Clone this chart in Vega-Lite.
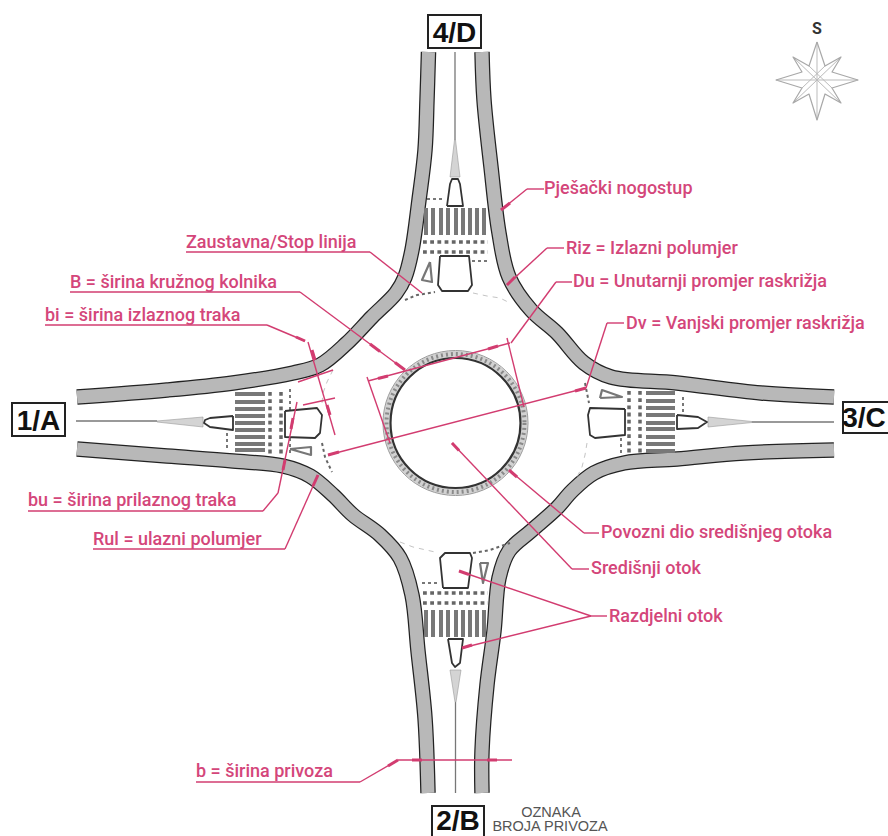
{"$schema":"https://vega.github.io/schema/vega-lite/v6.json","width":888,"height":836,"padding":0,"autosize":{"type":"none"},"background":"white","config":{"view":{"stroke":null}},
"datasets":{
"walk":[
{"s":"NW","i":0,"x":428.5,"y":52},{"s":"NW","i":1,"x":427,"y":100},{"s":"NW","i":2,"x":425,"y":150},{"s":"NW","i":3,"x":419,"y":200},{"s":"NW","i":4,"x":412,"y":250},{"s":"NW","i":5,"x":405,"y":277},{"s":"NW","i":6,"x":396,"y":293},{"s":"NW","i":7,"x":372,"y":317},{"s":"NW","i":8,"x":347,"y":343},{"s":"NW","i":9,"x":320,"y":365},{"s":"NW","i":10,"x":293,"y":373},{"s":"NW","i":11,"x":233,"y":383},{"s":"NW","i":12,"x":167,"y":390},{"s":"NW","i":13,"x":77,"y":397},
{"s":"SW","i":0,"x":77,"y":449},{"s":"SW","i":1,"x":167,"y":456},{"s":"SW","i":2,"x":233,"y":461},{"s":"SW","i":3,"x":283,"y":466},{"s":"SW","i":4,"x":310,"y":476},{"s":"SW","i":5,"x":333,"y":495},{"s":"SW","i":6,"x":353,"y":515},{"s":"SW","i":7,"x":380,"y":535},{"s":"SW","i":8,"x":400,"y":558},{"s":"SW","i":9,"x":412,"y":595},{"s":"SW","i":10,"x":418,"y":651},{"s":"SW","i":11,"x":425,"y":718},{"s":"SW","i":12,"x":428,"y":793},
{"s":"SE","i":0,"x":834,"y":450},{"s":"SE","i":1,"x":744,"y":453},{"s":"SE","i":2,"x":677,"y":459},{"s":"SE","i":3,"x":624,"y":463},{"s":"SE","i":4,"x":594,"y":473},{"s":"SE","i":5,"x":572,"y":491},{"s":"SE","i":6,"x":557,"y":508},{"s":"SE","i":7,"x":531,"y":531},{"s":"SE","i":8,"x":509,"y":551},{"s":"SE","i":9,"x":499,"y":578},{"s":"SE","i":10,"x":494,"y":631},{"s":"SE","i":11,"x":487,"y":685},{"s":"SE","i":12,"x":482,"y":751},{"s":"SE","i":13,"x":482,"y":793},
{"s":"NE","i":0,"x":482,"y":52},{"s":"NE","i":1,"x":484,"y":100},{"s":"NE","i":2,"x":491,"y":167},{"s":"NE","i":3,"x":499,"y":233},{"s":"NE","i":4,"x":509,"y":277},{"s":"NE","i":5,"x":531,"y":310},{"s":"NE","i":6,"x":557,"y":333},{"s":"NE","i":7,"x":584,"y":363},{"s":"NE","i":8,"x":611,"y":377},{"s":"NE","i":9,"x":677,"y":383},{"s":"NE","i":10,"x":761,"y":393},{"s":"NE","i":11,"x":834,"y":397}],
"axis":[{"x":76,"y":421,"x2":157,"y2":421},{"x":752,"y":422,"x2":834,"y2":422},{"x":455,"y":52,"x2":455,"y2":140},{"x":455.5,"y":702,"x2":455.5,"y2":793}],
"wedgeH":[{"w":"W","x":157,"y":421,"y2":422},{"w":"W","x":203,"y":417,"y2":427},{"w":"E","x":708,"y":417,"y2":427},{"w":"E","x":752,"y":421.5,"y2":422.5}],
"wedgeV":[{"w":"N","y":140,"x":454.5,"x2":455.5},{"w":"N","y":177,"x":450,"x2":460},{"w":"S","y":670,"x":450,"x2":461},{"w":"S","y":702,"x":455,"x2":456}],
"stripes":[
{"x":235,"y":394,"x2":265,"y2":394},{"x":235,"y":402,"x2":265,"y2":402},{"x":235,"y":409,"x2":265,"y2":409},{"x":235,"y":416,"x2":265,"y2":416},{"x":235,"y":423,"x2":265,"y2":423},{"x":235,"y":430,"x2":265,"y2":430},{"x":235,"y":437,"x2":265,"y2":437},{"x":235,"y":444,"x2":265,"y2":444},{"x":235,"y":450,"x2":265,"y2":450},
{"x":646,"y":393,"x2":675,"y2":393},{"x":646,"y":401,"x2":675,"y2":401},{"x":646,"y":408,"x2":675,"y2":408},{"x":646,"y":415,"x2":675,"y2":415},{"x":646,"y":423,"x2":675,"y2":423},{"x":646,"y":429,"x2":675,"y2":429},{"x":646,"y":437,"x2":675,"y2":437},{"x":646,"y":444,"x2":675,"y2":444},{"x":646,"y":451,"x2":675,"y2":451},
{"x":426,"y":208,"x2":426,"y2":235},{"x":433,"y":208,"x2":433,"y2":235},{"x":441,"y":208,"x2":441,"y2":235},{"x":448,"y":208,"x2":448,"y2":235},{"x":456,"y":208,"x2":456,"y2":235},{"x":463,"y":208,"x2":463,"y2":235},{"x":470,"y":208,"x2":470,"y2":235},{"x":477,"y":208,"x2":477,"y2":235},{"x":484,"y":208,"x2":484,"y2":235},
{"x":426,"y":610,"x2":426,"y2":637},{"x":433,"y":610,"x2":433,"y2":637},{"x":441,"y":610,"x2":441,"y2":637},{"x":448,"y":610,"x2":448,"y2":637},{"x":456,"y":610,"x2":456,"y2":637},{"x":463,"y":610,"x2":463,"y2":637},{"x":470,"y":610,"x2":470,"y2":637},{"x":477,"y":610,"x2":477,"y2":637},{"x":484,"y":610,"x2":484,"y2":637}],
"dots":[{"x":270,"y":392,"x2":270,"y2":454},{"x":281,"y":392,"x2":281,"y2":454},{"x":629,"y":391,"x2":629,"y2":454},{"x":640,"y":391,"x2":640,"y2":454},{"x":423,"y":242,"x2":488,"y2":242},{"x":423,"y":252,"x2":488,"y2":252},{"x":423,"y":593,"x2":488,"y2":593},{"x":423,"y":603,"x2":488,"y2":603}],
"fine":[{"x":227,"y":433,"x2":227,"y2":448},{"x":290,"y":389,"x2":290,"y2":411},{"x":290,"y":438,"x2":290,"y2":454},{"x":683,"y":397,"x2":683,"y2":412},{"x":621,"y":438,"x2":621,"y2":455},{"x":427,"y":199,"x2":445,"y2":199},{"x":472,"y":261,"x2":488,"y2":261},{"x":422,"y":583,"x2":438,"y2":583}],
"apronDark":[
{"a":"a","i":0,"x":405,"y":300},{"a":"a","i":1,"x":417,"y":295},{"a":"a","i":2,"x":435,"y":292},
{"a":"b","i":0,"x":585,"y":383},{"a":"b","i":1,"x":587,"y":393},{"a":"b","i":2,"x":589,"y":403},
{"a":"c","i":0,"x":473,"y":553},{"a":"c","i":1,"x":490,"y":550},{"a":"c","i":2,"x":510,"y":543},
{"a":"d","i":0,"x":322,"y":443},{"a":"d","i":1,"x":325,"y":457},{"a":"d","i":2,"x":332,"y":472}],
"apronLight":[
{"a":"a","i":0,"x":473,"y":293},{"a":"a","i":1,"x":487,"y":296},{"a":"a","i":2,"x":500,"y":298},{"a":"a","i":3,"x":510,"y":303},
{"a":"b","i":0,"x":587,"y":443},{"a":"b","i":1,"x":585,"y":455},{"a":"b","i":2,"x":582,"y":467},{"a":"b","i":3,"x":577,"y":477},
{"a":"c","i":0,"x":400,"y":542},{"a":"c","i":1,"x":413,"y":547},{"a":"c","i":2,"x":435,"y":552},
{"a":"d","i":0,"x":333,"y":370},{"a":"d","i":1,"x":327,"y":382},{"a":"d","i":2,"x":323,"y":393},{"a":"d","i":3,"x":322,"y":403}],
"islands":[
{"k":"N1","i":0,"x":447,"y":206},{"k":"N1","i":1,"x":463,"y":206},{"k":"N1","i":2,"x":460,"y":184},{"k":"N1","i":3,"x":458,"y":179},{"k":"N1","i":4,"x":452,"y":179},{"k":"N1","i":5,"x":450,"y":184},{"k":"N1","i":6,"x":447,"y":206},
{"k":"N2","i":0,"x":440,"y":256},{"k":"N2","i":1,"x":469,"y":256},{"k":"N2","i":2,"x":472,"y":285},{"k":"N2","i":3,"x":468,"y":291},{"k":"N2","i":4,"x":442,"y":291},{"k":"N2","i":5,"x":438,"y":285},{"k":"N2","i":6,"x":440,"y":256},
{"k":"W1","i":0,"x":233,"y":416},{"k":"W1","i":1,"x":233,"y":430},{"k":"W1","i":2,"x":210,"y":427},{"k":"W1","i":3,"x":204,"y":423},{"k":"W1","i":4,"x":205,"y":420},{"k":"W1","i":5,"x":210,"y":418},{"k":"W1","i":6,"x":233,"y":416},
{"k":"W2","i":0,"x":285,"y":411},{"k":"W2","i":1,"x":317,"y":408},{"k":"W2","i":2,"x":322,"y":415},{"k":"W2","i":3,"x":320,"y":433},{"k":"W2","i":4,"x":315,"y":438},{"k":"W2","i":5,"x":285,"y":437},{"k":"W2","i":6,"x":285,"y":411},
{"k":"E1","i":0,"x":677,"y":415},{"k":"E1","i":1,"x":698,"y":417},{"k":"E1","i":2,"x":707,"y":422},{"k":"E1","i":3,"x":698,"y":428},{"k":"E1","i":4,"x":677,"y":429},{"k":"E1","i":5,"x":677,"y":415},
{"k":"E2","i":0,"x":625,"y":409},{"k":"E2","i":1,"x":590,"y":408},{"k":"E2","i":2,"x":588,"y":415},{"k":"E2","i":3,"x":590,"y":435},{"k":"E2","i":4,"x":595,"y":438},{"k":"E2","i":5,"x":625,"y":435},{"k":"E2","i":6,"x":625,"y":409},
{"k":"S1","i":0,"x":448,"y":639},{"k":"S1","i":1,"x":463,"y":639},{"k":"S1","i":2,"x":460,"y":663},{"k":"S1","i":3,"x":455,"y":667},{"k":"S1","i":4,"x":452,"y":663},{"k":"S1","i":5,"x":448,"y":639},
{"k":"S2","i":0,"x":443,"y":588},{"k":"S2","i":1,"x":440,"y":558},{"k":"S2","i":2,"x":445,"y":553},{"k":"S2","i":3,"x":470,"y":553},{"k":"S2","i":4,"x":472,"y":558},{"k":"S2","i":5,"x":468,"y":588},{"k":"S2","i":6,"x":443,"y":588}],
"yield":[
{"k":"N","i":0,"x":430,"y":262},{"k":"N","i":1,"x":422,"y":280},{"k":"N","i":2,"x":432,"y":282},{"k":"N","i":3,"x":430,"y":262},
{"k":"W","i":0,"x":290,"y":449},{"k":"W","i":1,"x":311,"y":447},{"k":"W","i":2,"x":311,"y":455},{"k":"W","i":3,"x":290,"y":449},
{"k":"E","i":0,"x":600,"y":398},{"k":"E","i":1,"x":602,"y":390},{"k":"E","i":2,"x":622,"y":397},{"k":"E","i":3,"x":600,"y":398},
{"k":"S","i":0,"x":480,"y":563},{"k":"S","i":1,"x":488,"y":563},{"k":"S","i":2,"x":483,"y":583},{"k":"S","i":3,"x":480,"y":563}],
"star":[
{"i":0,"x":817,"y":42},{"i":1,"x":825,"y":66},{"i":2,"x":841,"y":57},{"i":3,"x":832,"y":72},{"i":4,"x":858,"y":80},{"i":5,"x":832,"y":88},{"i":6,"x":841,"y":103},{"i":7,"x":825,"y":94},{"i":8,"x":817,"y":120},{"i":9,"x":809,"y":94},{"i":10,"x":793,"y":103},{"i":11,"x":802,"y":88},{"i":12,"x":776,"y":80},{"i":13,"x":802,"y":72},{"i":14,"x":793,"y":57},{"i":15,"x":809,"y":66},{"i":16,"x":817,"y":42}],
"starIn":[{"x":817,"y":42,"x2":817,"y2":120},{"x":776,"y":80,"x2":858,"y2":80},{"x":793,"y":57,"x2":841,"y2":103},{"x":841,"y":57,"x2":793,"y2":103},{"x":809,"y":66,"x2":832,"y2":88},{"x":825,"y":66,"x2":802,"y2":88}],
"ctr":[{"x":455.5,"y":423}],
"lead":[
{"x":186,"y":252,"x2":370,"y2":252},{"x":370,"y":252,"x2":422,"y2":293},
{"x":70,"y":292,"x2":300,"y2":292},{"x":300,"y":292,"x2":405,"y2":370},
{"x":45,"y":325,"x2":267,"y2":325},{"x":267,"y":325,"x2":305,"y2":341},{"x":308,"y":342,"x2":335,"y2":435},{"x":298,"y":382,"x2":333,"y2":370},{"x":303,"y":405,"x2":335,"y2":398},
{"x":28,"y":511,"x2":263,"y2":511},{"x":263,"y":511,"x2":278,"y2":493},{"x":278,"y":493,"x2":297,"y2":402},
{"x":93,"y":549,"x2":285,"y2":549},{"x":285,"y":549,"x2":318,"y2":475},
{"x":544,"y":189,"x2":527,"y2":189},{"x":527,"y":189,"x2":501,"y2":210},
{"x":564,"y":248,"x2":547,"y2":248},{"x":547,"y":248,"x2":507,"y2":285},
{"x":572,"y":282,"x2":556,"y2":282},{"x":556,"y":282,"x2":511,"y2":343},
{"x":624,"y":323,"x2":607,"y2":323},{"x":607,"y":323,"x2":586,"y2":388},
{"x":599,"y":533,"x2":584,"y2":533},{"x":584,"y":533,"x2":509,"y2":470},
{"x":589,"y":569,"x2":572,"y2":569},{"x":572,"y":569,"x2":452,"y2":443},
{"x":607,"y":616,"x2":591,"y2":616},{"x":591,"y":616,"x2":459,"y2":571},{"x":591,"y":616,"x2":462,"y2":648},
{"x":196,"y":782,"x2":360,"y2":782},{"x":360,"y":782,"x2":398,"y2":760},{"x":398,"y":760,"x2":512,"y2":760},
{"x":368,"y":381,"x2":510,"y2":343},{"x":367,"y":377,"x2":390,"y2":443},{"x":507,"y":338,"x2":524,"y2":407},
{"x":328,"y":455,"x2":586,"y2":388}],
"heads":[
{"x":405,"y":370,"x2":395,"y2":362.5},{"x":370,"y":344,"x2":380,"y2":351.5},{"x":305,"y":341,"x2":296,"y2":337},{"x":315,"y":360,"x2":312,"y2":350},{"x":330,"y":415,"x2":327,"y2":405},{"x":293,"y":418,"x2":291,"y2":429},{"x":283,"y":470,"x2":285,"y2":460},{"x":318,"y":475,"x2":313,"y2":486},{"x":501,"y":210,"x2":510,"y2":203},{"x":507,"y":285,"x2":515,"y2":277},{"x":378,"y":378.5,"x2":388,"y2":376},{"x":498,"y":346,"x2":488,"y2":349},{"x":586,"y":388,"x2":575,"y2":391},{"x":328,"y":455,"x2":339,"y2":452},{"x":509,"y":470,"x2":517,"y2":477},{"x":452,"y":443,"x2":459,"y2":450.5},{"x":459,"y":571,"x2":469,"y2":574.5},{"x":462,"y":648,"x2":472,"y2":645},{"x":422,"y":760,"x2":412,"y2":760},{"x":487,"y":760,"x2":497,"y2":760},{"x":398,"y":760,"x2":388,"y2":766}],
"boxes":[{"x":428,"x2":481,"y":15,"y2":48},{"x":12,"x2":65,"y":403,"y2":436},{"x":843,"x2":893,"y":402,"y2":433},{"x":432,"x2":484,"y":806,"y2":842}],
"boxText":[{"x":454.5,"y":42,"t":"4/D"},{"x":38.5,"y":430,"t":"1/A"},{"x":864,"y":427,"t":"3/C"},{"x":458,"y":830,"t":"2/B"}],
"labels":[
{"x":186,"y":248,"t":"Zaustavna/Stop linija"},{"x":70,"y":288,"t":"B = širina kružnog kolnika"},{"x":45,"y":321,"t":"bi = širina izlaznog traka"},{"x":28,"y":506,"t":"bu = širina prilaznog traka"},{"x":93,"y":545,"t":"Rul = ulazni polumjer"},{"x":544,"y":194,"t":"Pješački nogostup"},{"x":566,"y":254,"t":"Riz = Izlazni polumjer"},{"x":573,"y":287,"t":"Du = Unutarnji promjer raskrižja"},{"x":626,"y":329,"t":"Dv = Vanjski promjer raskrižja"},{"x":601,"y":538,"t":"Povozni dio središnjeg otoka"},{"x":591,"y":574,"t":"Središnji otok"},{"x":609,"y":622,"t":"Razdjelni otok"},{"x":196,"y":777,"t":"b = širina privoza"}],
"notes":[{"x":551,"y":817,"t":"OZNAKA"},{"x":550,"y":831,"t":"BROJA PRIVOZA"}],
"north":[{"x":817,"y":34,"t":"S"}]
},
"encoding":{"x":{"field":"x","type":"quantitative","scale":{"domain":[0,888]},"axis":null},"y":{"field":"y","type":"quantitative","scale":{"domain":[836,0]},"axis":null}},
"layer":[
{"data":{"name":"walk"},"mark":{"type":"line","stroke":"#222","strokeWidth":15.5,"interpolate":"catmull-rom","strokeCap":"butt"},"encoding":{"detail":{"field":"s"},"order":{"field":"i","type":"quantitative"}}},
{"data":{"name":"walk"},"mark":{"type":"line","stroke":"#b8b8b8","strokeWidth":13,"interpolate":"catmull-rom","strokeCap":"butt"},"encoding":{"detail":{"field":"s"},"order":{"field":"i","type":"quantitative"}}},
{"data":{"name":"axis"},"mark":{"type":"rule","stroke":"#777","strokeWidth":1.3},"encoding":{"x2":{"field":"x2"},"y2":{"field":"y2"}}},
{"data":{"name":"wedgeH"},"mark":{"type":"area","fill":"#d4d4d4","stroke":"#999","strokeWidth":0.6},"encoding":{"y2":{"field":"y2"},"detail":{"field":"w"}}},
{"data":{"name":"wedgeV"},"mark":{"type":"area","orient":"horizontal","fill":"#d4d4d4","stroke":"#999","strokeWidth":0.6},"encoding":{"x2":{"field":"x2"},"detail":{"field":"w"}}},
{"data":{"name":"stripes"},"mark":{"type":"rule","stroke":"#787878","strokeWidth":4},"encoding":{"x2":{"field":"x2"},"y2":{"field":"y2"}}},
{"data":{"name":"dots"},"mark":{"type":"rule","stroke":"#666","strokeWidth":3.5,"strokeDash":[3.8,3.4]},"encoding":{"x2":{"field":"x2"},"y2":{"field":"y2"}}},
{"data":{"name":"fine"},"mark":{"type":"rule","stroke":"#777","strokeWidth":2,"strokeDash":[3,3]},"encoding":{"x2":{"field":"x2"},"y2":{"field":"y2"}}},
{"data":{"name":"apronDark"},"mark":{"type":"line","stroke":"#666","strokeWidth":2,"strokeDash":[3,3]},"encoding":{"detail":{"field":"a"},"order":{"field":"i","type":"quantitative"}}},
{"data":{"name":"apronLight"},"mark":{"type":"line","stroke":"#c4c4c4","strokeWidth":1,"strokeDash":[5,5]},"encoding":{"detail":{"field":"a"},"order":{"field":"i","type":"quantitative"}}},
{"data":{"name":"islands"},"mark":{"type":"line","stroke":"#333","strokeWidth":1.8,"strokeJoin":"round"},"encoding":{"detail":{"field":"k"},"order":{"field":"i","type":"quantitative"}}},
{"data":{"name":"yield"},"mark":{"type":"line","stroke":"#777","strokeWidth":2.2,"strokeJoin":"round"},"encoding":{"detail":{"field":"k"},"order":{"field":"i","type":"quantitative"}}},
{"data":{"name":"starIn"},"mark":{"type":"rule","stroke":"#bbb","strokeWidth":1},"encoding":{"x2":{"field":"x2"},"y2":{"field":"y2"}}},
{"data":{"name":"star"},"mark":{"type":"line","stroke":"#a8a8a8","strokeWidth":1.2,"strokeJoin":"round"},"encoding":{"order":{"field":"i","type":"quantitative"}}},
{"data":{"name":"ctr"},"mark":{"type":"point","shape":"circle","filled":false,"size":19044,"stroke":"#d2d2d2","strokeWidth":6,"opacity":1}},
{"data":{"name":"ctr"},"mark":{"type":"point","shape":"circle","filled":false,"size":19044,"stroke":"#8a8a8a","strokeWidth":4,"strokeDash":[2,3],"opacity":1}},
{"data":{"name":"ctr"},"mark":{"type":"point","shape":"circle","filled":false,"size":21025,"stroke":"#999","strokeWidth":1,"opacity":1}},
{"data":{"name":"ctr"},"mark":{"type":"point","shape":"circle","filled":false,"size":16900,"stroke":"#333","strokeWidth":2.2,"opacity":1}},
{"data":{"name":"lead"},"mark":{"type":"rule","stroke":"#d23c70","strokeWidth":1.4},"encoding":{"x2":{"field":"x2"},"y2":{"field":"y2"}}},
{"data":{"name":"heads"},"mark":{"type":"rule","stroke":"#d23c70","strokeWidth":3},"encoding":{"x2":{"field":"x2"},"y2":{"field":"y2"}}},
{"data":{"name":"boxes"},"mark":{"type":"rect","fill":"white","stroke":"#222","strokeWidth":2,"clip":false},"encoding":{"x2":{"field":"x2"},"y2":{"field":"y2"}}},
{"data":{"name":"boxText"},"mark":{"type":"text","font":"Liberation Sans","fontWeight":"bold","fontSize":28,"align":"center","baseline":"alphabetic","fill":"#111"},"encoding":{"text":{"field":"t"}}},
{"data":{"name":"labels"},"mark":{"type":"text","font":"Roboto","fontWeight":500,"fontSize":18,"align":"left","baseline":"alphabetic","fill":"#d4467a"},"encoding":{"text":{"field":"t"}}},
{"data":{"name":"notes"},"mark":{"type":"text","font":"Liberation Sans","fontSize":14.5,"align":"center","baseline":"alphabetic","fill":"#555"},"encoding":{"text":{"field":"t"}}},
{"data":{"name":"north"},"mark":{"type":"text","font":"Roboto","fontWeight":"bold","fontSize":16,"align":"center","baseline":"alphabetic","fill":"#333"},"encoding":{"text":{"field":"t"}}}
]}
